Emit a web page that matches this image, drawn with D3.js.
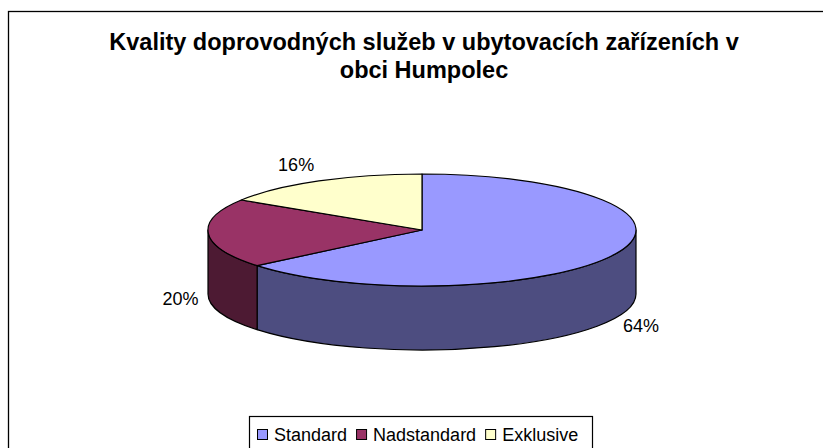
<!DOCTYPE html>
<html>
<head>
<meta charset="utf-8">
<script src="https://cdn.jsdelivr.net/npm/d3@7"></script>
<style>
  body { margin: 0; background: #fff; }
  text { font-family: Arial, "Liberation Sans", sans-serif; fill: #000; }
</style>
</head>
<body>
<svg id="chart" width="823" height="448"></svg>
<script>
// data
var categories = ["Standard", "Nadstandard", "Exklusive"];
var values = [64, 20, 16];
var labels = ["64%", "20%", "16%"];
var titleLines = ["Kvality doprovodných služeb v ubytovacích zařízeních v", "obci Humpolec"];
var topColors = ["#9999FF", "#993366", "#FFFFCC"];
var sideColors = ["#4D4D80", "#4D1A33", "#80806A"];

var W = 823, H = 448;
var cx = 422, cy = 230, rx = 214, ry = 56, depth = 64;

var svg = d3.select("#chart");

// outer chart frame (runs off the right/bottom edge like the picture)
svg.append("rect")
	.attr("x", 8.5).attr("y", 11.5)
	.attr("width", 840).attr("height", 460)
	.attr("fill", "#fff").attr("stroke", "#000").attr("stroke-width", 1.3);

// title
svg.append("g").selectAll("text")
	.data(titleLines)
	.join("text")
	.attr("x", 424)
	.attr("y", function(d, i) { return 50 + i * 28; })
	.attr("text-anchor", "middle")
	.attr("font-weight", "bold")
	.attr("font-size", 23.5)
	.text(function(d) { return d; });

var color = d3.scaleOrdinal().domain(categories).range(topColors);
var sideColor = d3.scaleOrdinal().domain(categories).range(sideColors);

var pie = d3.pie().sort(null).value(function(d, i) { return values[i]; });
var arcs = pie(categories);

function pt(a, dy) {
	return [cx + rx * Math.sin(a), cy - ry * Math.cos(a) + (dy || 0)];
}

function topPath(d) {
	var p0 = pt(d.startAngle), p1 = pt(d.endAngle);
	var large = d.endAngle - d.startAngle > Math.PI ? 1 : 0;
	return "M" + cx + "," + cy + "L" + p0 + "A" + rx + "," + ry + " 0 " + large + " 1 " + p1 + "Z";
}

function sidePath(d) {
	var a = Math.max(d.startAngle, Math.PI / 2);
	var b = Math.min(d.endAngle, Math.PI * 3 / 2);
	if (b <= a) return null;
	var p0 = pt(a), p1 = pt(b), q1 = pt(b, depth), q0 = pt(a, depth);
	return "M" + p0 + "A" + rx + "," + ry + " 0 0 1 " + p1 +
		"L" + q1 + "A" + rx + "," + ry + " 0 0 0 " + q0 + "Z";
}

var g = svg.append("g");

g.selectAll("path.side")
	.data(arcs.filter(function(d) { return sidePath(d); }))
	.join("path")
	.attr("class", "side")
	.attr("d", sidePath)
	.attr("fill", function(d) { return sideColor(d.data); })
	.attr("stroke", "#000")
	.attr("stroke-width", 1.2)
	.attr("stroke-linejoin", "round");

g.selectAll("path.top")
	.data(arcs)
	.join("path")
	.attr("class", "top")
	.attr("d", topPath)
	.attr("fill", function(d) { return color(d.data); })
	.attr("stroke", "#000")
	.attr("stroke-width", 1.2)
	.attr("stroke-linejoin", "round");

// percentage labels
g.selectAll("text.lbl")
	.data(arcs)
	.join("text")
	.attr("class", "lbl")
	.attr("font-size", 18)
	.attr("text-anchor", "middle")
	.attr("x", function(d) {
		var m = (d.startAngle + d.endAngle) / 2;
		var c = Math.cos(m);
		return cx + (rx + 28 + (c > 0 ? 22 * c : 0)) * Math.sin(m);
	})
	.attr("y", function(d) {
		var m = (d.startAngle + d.endAngle) / 2;
		var c = Math.cos(m);
		return cy - (ry + 18) * c + (c < 0 ? depth : 0) + 6;
	})
	.text(function(d, i) { return labels[i]; });

// legend
var lg = svg.append("g");
lg.append("rect")
	.attr("x", 249.5).attr("y", 416.5)
	.attr("width", 343).attr("height", 60)
	.attr("fill", "#fff").attr("stroke", "#000").attr("stroke-width", 1.2);

var lx = 257;
categories.forEach(function(c, i) {
	lg.append("rect")
		.attr("x", lx + 0.5).attr("y", 429.5)
		.attr("width", 10).attr("height", 10)
		.attr("fill", color(c)).attr("stroke", "#000").attr("stroke-width", 1);
	var t = lg.append("text")
		.attr("x", lx + 17).attr("y", 441)
		.attr("font-size", 18)
		.text(c);
	lx += 17 + t.node().getComputedTextLength() + 9;
});
</script>
</body>
</html>
